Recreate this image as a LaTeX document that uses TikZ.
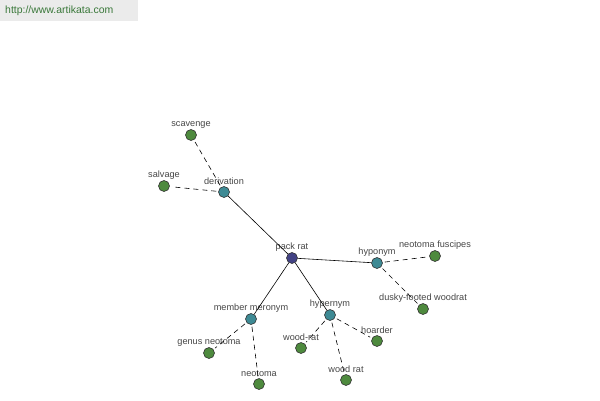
\documentclass[tikz,border=0pt]{standalone}
\usepackage{fontspec}
\setmainfont{Liberation Sans}
\usepackage{xcolor}
\usetikzlibrary{positioning}
\definecolor{ArtiGreen}{RGB}{78, 138, 62}
\definecolor{ArtiTeal}{RGB}{62, 138, 148}
\definecolor{ArtiBlue}{RGB}{66, 66, 132}
\definecolor{ArtiGrey}{RGB}{235, 235, 235}
\definecolor{ArtiLink}{RGB}{58, 120, 58}
\definecolor{ArtiText}{RGB}{70, 70, 70}

\begin{document}
\begin{tikzpicture}[x=1bp, y=-1bp,
    word/.style={circle, draw=black!80, line width=0.6pt, minimum size=11bp, inner sep=0pt},
    leaf/.style={word, fill=ArtiGreen},
    relation/.style={word, fill=ArtiTeal},
    center/.style={word, fill=ArtiBlue},
    every label/.style={font=\fontsize{9.2}{11}\selectfont, text=ArtiText, inner sep=1pt},
    solidlink/.style={draw=black, line width=0.6pt},
    dashlink/.style={draw=black, line width=0.6pt, dash pattern=on 5bp off 4bp, shorten <=2bp, shorten >=2bp}]
  \useasboundingbox (0,0) rectangle (600,400);
  % header
  \fill[ArtiGrey] (0,0) rectangle (138,21);
  \node[anchor=west, text=ArtiLink, font=\fontsize{10.5}{12}\selectfont, inner sep=0pt] (site) at (5,11) {http://www.artikata.com};
  % nodes
  \node[center, label=above:pack rat] (packrat) at (292,258) {};
  \node[relation, label=above:derivation] (derivation) at (224,192) {};
  \node[relation, label=above:hyponym] (hyponym) at (377,263) {};
  \node[relation, label=above:member meronym] (meronym) at (251,319) {};
  \node[relation, label=above:hypernym] (hypernym) at (330,315) {};
  \node[leaf, label=above:scavenge] (scavenge) at (191,135) {};
  \node[leaf, label=above:salvage] (salvage) at (164,186) {};
  \node[leaf, label=above:neotoma fuscipes] (fuscipes) at (435,256) {};
  \node[leaf, label=above:dusky-footed woodrat] (dusky) at (423,309) {};
  \node[leaf, label=above:genus neotoma] (genus) at (209,353) {};
  \node[leaf, label=above:neotoma] (neotoma) at (259,384) {};
  \node[leaf, label=above:wood-rat] (woodrat1) at (301,348) {};
  \node[leaf, label=above:hoarder] (hoarder) at (377,341) {};
  \node[leaf, label=above:wood rat] (woodrat2) at (346,380) {};
  % links
  \draw[solidlink] (packrat) -- (derivation);
  \draw[solidlink] (packrat) -- (hyponym);
  \draw[solidlink] (packrat) -- (meronym);
  \draw[solidlink] (packrat) -- (hypernym);
  \draw[dashlink] (derivation) -- (scavenge);
  \draw[dashlink] (derivation) -- (salvage);
  \draw[dashlink] (hyponym) -- (fuscipes);
  \draw[dashlink] (hyponym) -- (dusky);
  \draw[dashlink] (meronym) -- (genus);
  \draw[dashlink] (meronym) -- (neotoma);
  \draw[dashlink] (hypernym) -- (woodrat1);
  \draw[dashlink] (hypernym) -- (hoarder);
  \draw[dashlink] (hypernym) -- (woodrat2);
\end{tikzpicture}
\end{document}
